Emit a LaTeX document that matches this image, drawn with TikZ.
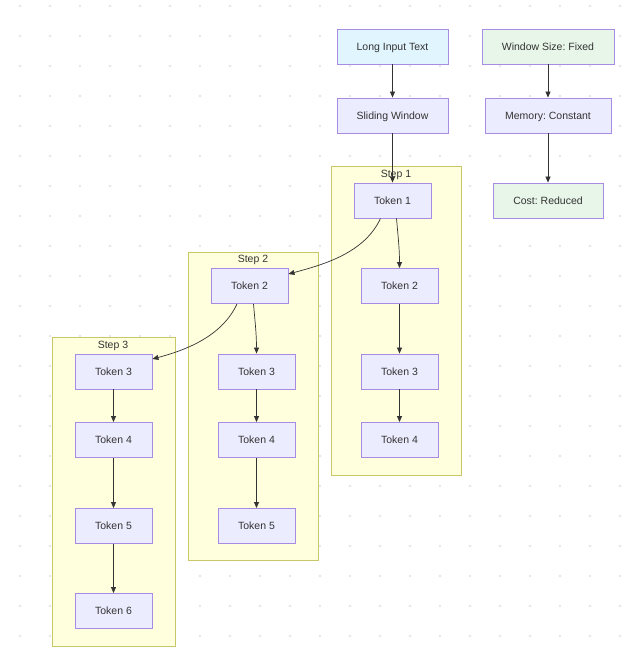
\documentclass[tikz,border=0pt]{standalone}
\usepackage{fontspec}
\setmainfont{Liberation Sans}
\usetikzlibrary{arrows.meta}
\frenchspacing
\definecolor{nodefill}{HTML}{ECECFF}
\definecolor{nodedraw}{HTML}{A88CE3}
\definecolor{clfill}{HTML}{FFFFDE}
\definecolor{cldraw}{HTML}{C8C86A}
\definecolor{bluefill}{HTML}{E1F5FE}
\definecolor{greenfill}{HTML}{E8F5E9}
\definecolor{txt}{HTML}{333333}
\definecolor{dotc}{HTML}{E6E6E6}
\tikzset{
  box/.style={draw=nodedraw, fill=nodefill, line width=0.9pt, minimum height=35pt, inner sep=0pt, text=txt, text height=8.5pt, text depth=1.5pt, font=\fontsize{10.5}{12}\selectfont},
  cluster/.style={draw=cldraw, fill=clfill, line width=0.9pt},
  cltitle/.style={text=txt, font=\fontsize{10.5}{12}\selectfont, inner sep=0pt},
  arr/.style={draw=txt, line width=0.7pt, -{Triangle[length=6pt,width=5pt]}},
}
\begin{document}
\begin{tikzpicture}[x=1pt,y=-1pt]
\useasboundingbox (0,0) rectangle (642,662);
\fill[white] (0,0) rectangle (642,662);
\foreach \i in {20,50,...,640} {
  \foreach \j in {6,36,...,660} {
    \fill[dotc] (\i,\j) circle (1.4pt);
  }
}
% clusters
\draw[cluster] (331,166) rectangle (461,475);
\node[cltitle] (s1) at (396,174.5) {Step 1};
\draw[cluster] (188,252) rectangle (318,560);
\node[cltitle] (s2) at (253,259.5) {Step 2};
\draw[cluster] (52,337) rectangle (175,646);
\node[cltitle] (s3) at (113,345.5) {Step 3};
% top nodes
\node[box, fill=bluefill, minimum width=111pt] (lit) at (392.5,46.5) {Long Input Text};
\node[box, minimum width=111pt] (sw) at (392.5,115.5) {Sliding Window};
\node[box, fill=greenfill, minimum width=132pt] (ws) at (548,46.5) {Window Size: Fixed};
\node[box, minimum width=126pt] (mc) at (548,115.5) {Memory: Constant};
\node[box, fill=greenfill, minimum width=110pt] (cr) at (548,200.5) {Cost: Reduced};
% step 1
\node[box, minimum width=77pt] (a1) at (392.5,200.5) {Token 1};
\node[box, minimum width=77pt] (a2) at (399.5,286) {Token 2};
\node[box, minimum width=77pt] (a3) at (399.5,371.5) {Token 3};
\node[box, minimum width=77pt] (a4) at (399.5,440) {Token 4};
% step 2
\node[box, minimum width=77pt] (b2) at (249.5,286) {Token 2};
\node[box, minimum width=77pt] (b3) at (256.5,371.5) {Token 3};
\node[box, minimum width=77pt] (b4) at (256.5,440) {Token 4};
\node[box, minimum width=77pt] (b5) at (256.5,526) {Token 5};
% step 3
\node[box, minimum width=77pt] (c3) at (113.5,371.5) {Token 3};
\node[box, minimum width=77pt] (c4) at (113.5,440) {Token 4};
\node[box, minimum width=77pt] (c5) at (113.5,526) {Token 5};
\node[box, minimum width=77pt] (c6) at (113.5,611) {Token 6};
% edges
\draw[arr] (lit) -- (sw);
\draw[arr] (sw) -- (a1);
\draw[arr] (ws) -- (mc);
\draw[arr] (mc) -- (cr);
\draw[arr] ([xshift=4pt]a1.south) to[out=-85,in=90] (a2.north);
\draw[arr] ([xshift=-12pt]a1.south) to[out=-115,in=15,looseness=0.9] ([yshift=12pt]b2.east);
\draw[arr] (a2) -- (a3);
\draw[arr] (a3) -- (a4);
\draw[arr] ([xshift=4pt]b2.south) to[out=-85,in=90] (b3.north);
\draw[arr] ([xshift=-12.5pt]b2.south) to[out=-115,in=15,looseness=0.9] ([yshift=12.5pt]c3.east);
\draw[arr] (b3) -- (b4);
\draw[arr] (b4) -- (b5);
\draw[arr] (c3) -- (c4);
\draw[arr] (c4) -- (c5);
\draw[arr] (c5) -- (c6);
\end{tikzpicture}
\end{document}
